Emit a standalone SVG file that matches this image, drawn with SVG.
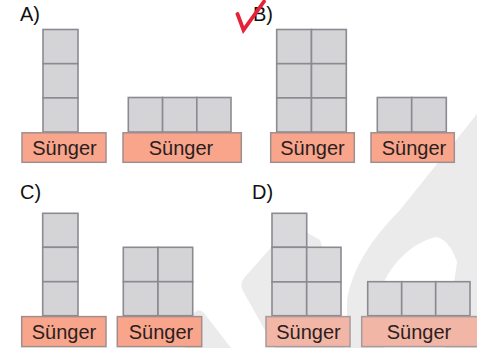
<svg xmlns="http://www.w3.org/2000/svg" width="477" height="348" viewBox="0 0 477 348">
<style>
.b{fill:#d4d4d6;stroke:#8c8991;stroke-width:1.6}
.bd{fill:#d9d9db;stroke:#8c8991;stroke-width:1.6}
.s{fill:#f8a58c;stroke:#a08e8c;stroke-width:1.5}
.sd{fill:#f2b6a6;stroke:#a8999a;stroke-width:1.5}
.t{font-family:"Liberation Sans",Arial,sans-serif;font-size:20px;fill:#2c1e1e;text-anchor:middle}
.l{font-family:"Liberation Sans",Arial,sans-serif;font-size:20px;fill:#111}
.w{fill:#ebebeb}
</style>
<rect width="477" height="348" fill="#fff"/>
<g id="watermark">
<path class="w" d="M185,348 L231,348 L204,313 Q199,307 193,314 L185,326 Z"/>
<path class="w" d="M245,277 Q239,283 243,291 L275,348 L345,348 L340,300 L320,240 L292,224 Z"/>
<path class="w" d="M347,348 L347,300 C352,270 370,240 400,210 L477,114 L477,348 Z"/>
<path fill="#fff" d="M384,348 L384,282 C395,258 418,240 437,237 C447,240 453,250 457,262 L445,348 Z"/>
</g>
<g id="labels">
<text class="l" x="20" y="21">A)</text>
<text class="l" x="253" y="21">B)</text>
<text class="l" x="20" y="199">C)</text>
<text class="l" x="252" y="199">D)</text>
</g>
<path id="check" d="M237.5,14 L243.5,30 L264,1.5" fill="none" stroke="#e52238" stroke-width="3.8" stroke-linecap="round" stroke-linejoin="miter"/>
<g id="A1">
<rect class="b" x="43" y="29.5" width="35" height="34.2"/>
<rect class="b" x="43" y="63.7" width="35" height="34.2"/>
<rect class="b" x="43" y="97.9" width="35" height="34.1"/>
<rect class="s" x="22" y="132.8" width="84" height="29.5"/>
<text class="t" x="64.5" y="155">Sünger</text>
</g>
<g id="A2">
<rect class="b" x="128.3" y="97.5" width="34.3" height="34.5"/>
<rect class="b" x="162.6" y="97.5" width="34.2" height="34.5"/>
<rect class="b" x="196.8" y="97.5" width="34.2" height="34.5"/>
<rect class="s" x="123" y="132.8" width="118.3" height="29.5"/>
<text class="t" x="181" y="155">Sünger</text>
</g>
<g id="B1">
<rect class="b" x="276.7" y="29.5" width="34.8" height="34.2"/>
<rect class="b" x="311.5" y="29.5" width="34.8" height="34.2"/>
<rect class="b" x="276.7" y="63.7" width="34.8" height="34.2"/>
<rect class="b" x="311.5" y="63.7" width="34.8" height="34.2"/>
<rect class="b" x="276.7" y="97.9" width="34.8" height="34.1"/>
<rect class="b" x="311.5" y="97.9" width="34.8" height="34.1"/>
<rect class="s" x="270.7" y="132.8" width="83.6" height="29.5"/>
<text class="t" x="312.5" y="155">Sünger</text>
</g>
<g id="B2">
<rect class="b" x="377.3" y="97.5" width="34.4" height="34.5"/>
<rect class="b" x="411.7" y="97.5" width="34.6" height="34.5"/>
<rect class="s" x="371" y="132.8" width="83.3" height="29.5"/>
<text class="t" x="414" y="155">Sünger</text>
</g>
<g id="C1">
<rect class="b" x="42.7" y="213.3" width="35.3" height="34"/>
<rect class="b" x="42.7" y="247.3" width="35.3" height="34.4"/>
<rect class="b" x="42.7" y="281.7" width="35.3" height="34"/>
<rect class="s" x="21.7" y="316.6" width="84.3" height="30"/>
<text class="t" x="64" y="339">Sünger</text>
</g>
<g id="C2">
<rect class="b" x="123.3" y="247.3" width="34.7" height="34.4"/>
<rect class="b" x="158" y="247.3" width="34.7" height="34.4"/>
<rect class="b" x="123.3" y="281.7" width="34.7" height="34"/>
<rect class="b" x="158" y="281.7" width="34.7" height="34"/>
<rect class="s" x="117.3" y="316.6" width="84.4" height="30"/>
<text class="t" x="161" y="339">Sünger</text>
</g>
<g id="D1">
<rect class="bd" x="272" y="213.3" width="34.7" height="34"/>
<rect class="bd" x="272" y="247.3" width="34.7" height="34.6"/>
<rect class="bd" x="306.7" y="247.3" width="34.3" height="34.6"/>
<rect class="bd" x="272" y="281.9" width="34.7" height="33.8"/>
<rect class="bd" x="306.7" y="281.9" width="34.3" height="33.8"/>
<rect class="sd" x="266" y="316.6" width="84" height="30"/>
<text class="t" x="308.5" y="339">Sünger</text>
</g>
<g id="D2">
<rect class="bd" x="367.7" y="281.7" width="34" height="34"/>
<rect class="bd" x="401.7" y="281.7" width="34" height="34"/>
<rect class="bd" x="435.7" y="281.7" width="34.3" height="34"/>
<rect class="sd" x="361.7" y="316.6" width="117" height="30"/>
<text class="t" x="419" y="339">Sünger</text>
</g>
</svg>
